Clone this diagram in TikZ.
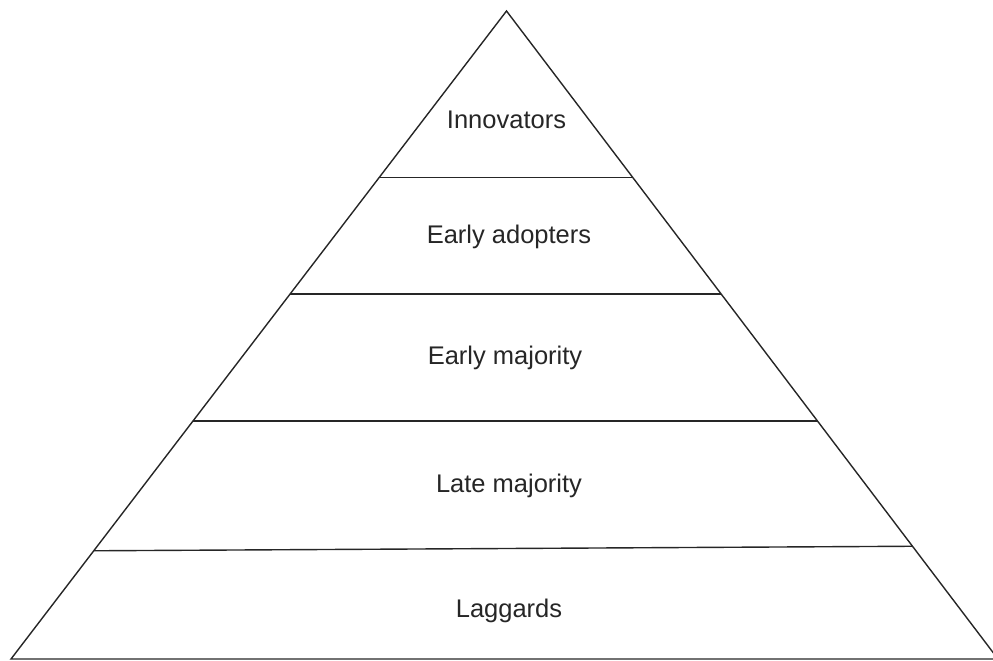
\documentclass[tikz,border=0pt]{standalone}
\usepackage{fontspec}
\setmainfont{Liberation Sans}
\usetikzlibrary{calc}
\begin{document}
\begin{tikzpicture}[x=1pt,y=-1pt,
  edge/.style={draw=black!85,line width=1.4pt,line join=miter},
  tier/.style={anchor=base,inner sep=0pt,text=black!85,font=\fontsize{25.5}{30}\selectfont}]
  \useasboundingbox (0,0) rectangle (993,661);
  % outline of the pyramid (its lower right corner runs past the frame)
  \coordinate (apex) at (506.5,11);
  \coordinate (bl) at (11,659);
  \coordinate (br) at (998,659);
  \draw[edge] (apex) -- (bl) -- (br) -- cycle;
  % dividing lines between the tiers
  \draw[edge] ($(apex)!0.257!(bl)$) -- ($(apex)!0.257!(br)$);
  \draw[edge] ($(apex)!0.437!(bl)$) -- ($(apex)!0.437!(br)$);
  \draw[edge] ($(apex)!0.633!(bl)$) -- ($(apex)!0.633!(br)$);
  \draw[edge] ($(apex)!0.833!(bl)$) -- ($(apex)!0.826!(br)$);
  % tier labels
  \node[tier] (innov) at (506.5,128) {Innovators};
  \node[tier] (early) at (509,243) {Early adopters};
  \node[tier] (emaj) at (505,364) {Early majority};
  \node[tier] (lmaj) at (509,492) {Late majority};
  \node[tier] (lag) at (509,617) {Laggards};
\end{tikzpicture}
\end{document}
